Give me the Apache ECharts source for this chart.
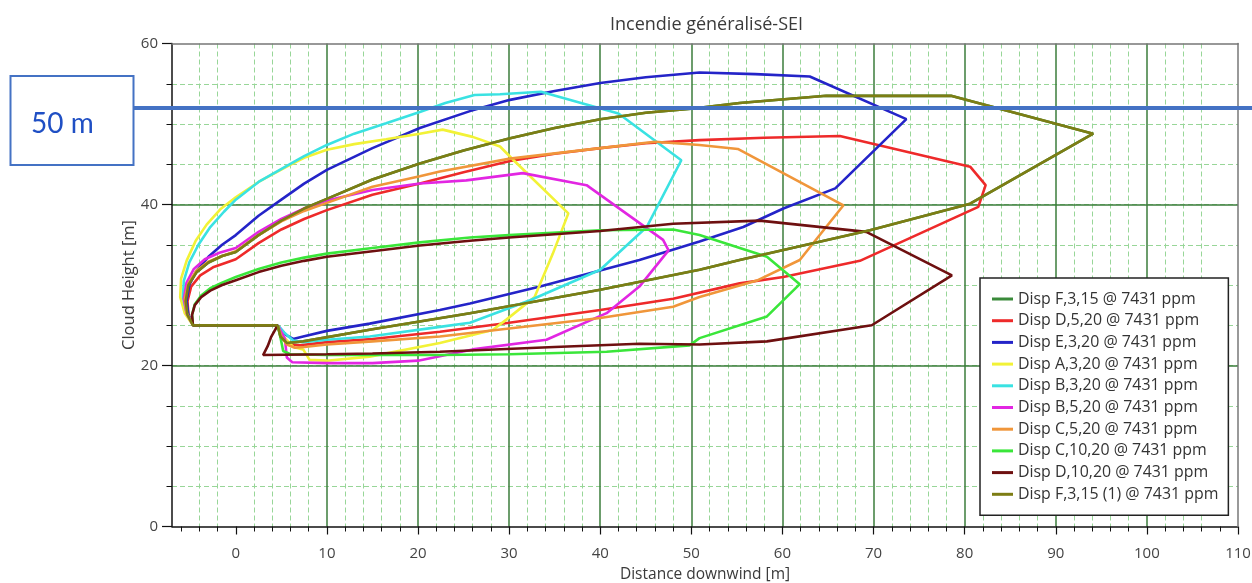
<!DOCTYPE html>
<html>
<head>
<meta charset="utf-8">
<script src="https://cdn.jsdelivr.net/npm/echarts@6/dist/echarts.min.js"></script>
<style>
html,body{margin:0;padding:0;background:#fff;}
#chart{width:1252px;height:583px;}
</style>
</head>
<body>
<div id="chart"></div>
<script>
// ---------- DATA ----------
const chartTitle = 'Incendie généralisé-SEI';
const xAxisName = 'Distance downwind [m]';
const yAxisName = 'Cloud Height [m]';
const xMin = -7, xMax = 110;
const yMin = 0, yMax = 60;
const xMajorTicks = [0,10,20,30,40,50,60,70,80,90,100,110];
const xMinorTicks = [-6,-4,-2,2,4,6,8,12,14,16,18,22,24,26,28,32,34,36,38,42,44,46,48,52,54,56,58,62,64,66,68,72,74,76,78,82,84,86,88,92,94,96,98,102,104,106,108];
const yMajorInterval = 20;
const yMinorInterval = 5;
const annotationText = '50 m';
const annotationLineY = 52.0;

const seriesNames = [
  'Disp F,3,15 @ 7431 ppm',
  'Disp D,5,20 @ 7431 ppm',
  'Disp E,3,20 @ 7431 ppm',
  'Disp A,3,20 @ 7431 ppm',
  'Disp B,3,20 @ 7431 ppm',
  'Disp B,5,20 @ 7431 ppm',
  'Disp C,5,20 @ 7431 ppm',
  'Disp C,10,20 @ 7431 ppm',
  'Disp D,10,20 @ 7431 ppm',
  'Disp F,3,15 (1) @ 7431 ppm'
];
const seriesColors = ['#3a8a3a','#ee2a2a','#2424c8','#f2f236','#3ae2e2','#e226e2','#f0963a','#3ae63a','#6e1010','#7d7d14'];

const dispF315 = [[4.6,25],[-4.7,25],[-5.3,26.3],[-5.5,28],[-5.2,30],[-4.3,31.6],[-3,32.8],[-1.5,33.6],[0,34.1],[2.5,36.2],[5,38],[7.5,39.5],[10,40.7],[15,43.1],[20.2,45.1],[25,46.7],[30,48.2],[35,49.5],[40,50.6],[45,51.4],[50.9,52.0],[55.3,52.6],[64.8,53.5],[78.5,53.5],[94.1,48.8],[80.6,40.1],[69.6,36.8],[55.3,33.1],[50.9,31.9],[40,29.4],[25.7,26.5],[15,24.5],[7.4,23.0],[5.6,22.8],[4.9,23.6],[4.6,25]];
const dispD520 = [[4.6,25],[-4.7,25],[-5.2,26.3],[-5.3,28],[-4.9,29.8],[-3.9,31.2],[-2.5,32.2],[-1,32.8],[0,33.2],[2.5,35.2],[5,36.9],[7.5,38.2],[10,39.3],[15,41.2],[20.2,42.6],[25,44],[30.1,45.4],[35,46.3],[40,47.0],[45,47.6],[50.9,48.0],[58,48.3],[66.3,48.5],[80.6,44.7],[82.3,42.4],[81.5,39.7],[68.5,33.0],[60.1,31.0],[55.3,30.2],[48,28.3],[40,26.9],[30,25.3],[22.4,24.2],[15,23.3],[10,22.9],[7,22.5],[5.8,22.6],[5.0,23.5],[4.6,25]];
const dispE320 = [[4.6,25],[-4.7,25],[-5.2,26.3],[-5.4,28],[-5.1,30],[-4.3,31.8],[-3,33.5],[-1.5,35],[0,36.2],[2.5,38.6],[5,40.6],[7.5,42.6],[10,44.3],[15,47],[20.2,49.5],[25.7,51.6],[30.1,53.0],[35,54.1],[40,55.1],[45,55.8],[50.9,56.4],[57,56.2],[63,55.9],[73.6,50.6],[65.8,42.0],[60.1,39.5],[55.7,37.2],[50.9,35.4],[44.3,33.1],[33.4,29.8],[25.7,27.7],[22.4,26.9],[14.7,25.2],[10,24.3],[7.4,23.6],[6.3,23.3],[5.5,23.8],[4.6,25]];
const dispA320 = [[4.6,25],[-4.7,25],[-5.6,26.5],[-6.1,28.5],[-6.0,30.8],[-5.4,33],[-4.4,35.5],[-3.2,37.5],[-1.7,39.4],[0,40.9],[2.5,42.8],[5.6,44.7],[7.5,45.8],[10,46.8],[13,47.5],[16.5,48.1],[20.2,48.8],[22.7,49.3],[26,48.4],[29,47.2],[30.5,45.5],[36.5,38.9],[34.8,33.9],[32.8,28.5],[29.7,25.7],[28.2,24.4],[22.4,22.8],[14.7,21.1],[10,20.6],[8.1,20.7],[7.4,22.0],[6.3,22.3],[5.3,23.5],[4.6,25]];
const dispB320 = [[4.6,25],[-4.7,25],[-5.4,26.5],[-5.8,28.5],[-5.7,30.5],[-5.1,32.8],[-4.1,35],[-2.8,37.2],[-1.3,39.1],[0,40.6],[2.5,42.8],[5.6,44.8],[7.5,46],[10,47.4],[13,48.8],[16.5,50.1],[20.2,51.5],[23,52.6],[26.2,53.6],[29,53.7],[33.5,54.0],[42,51.3],[48.9,45.5],[45.1,37.2],[40,31.9],[32.3,28.1],[25.7,25.3],[22.4,24.8],[14.7,23.6],[10,23.2],[7.4,22.9],[6.3,23.1],[5.4,24],[4.6,25]];
const dispB520 = [[4.6,25],[-4.7,25],[-5.4,26.5],[-5.7,28.3],[-5.4,30.3],[-4.6,32],[-3.4,33.2],[-1.8,34],[0,34.6],[2.5,36.6],[5,38.2],[7.5,39.5],[10,40.5],[15,41.8],[20.2,42.6],[25.3,43.0],[31.5,43.9],[38.5,42.4],[46.9,35.6],[47.5,34.3],[44.3,29.8],[40.7,26.5],[34.1,23.2],[26,22.0],[20,20.6],[15,20.3],[10,20.3],[6.2,20.4],[5.6,21.0],[5.4,23.3],[4.6,25]];
const dispC520 = [[4.6,25],[-4.7,25],[-5.4,26.5],[-5.6,28.3],[-5.2,30.2],[-4.3,31.8],[-3,32.9],[-1.5,33.6],[0,34.2],[2.5,36.2],[5,37.9],[7.5,39.2],[10,40.2],[15,42.2],[20.2,43.5],[22.4,44.1],[30.1,45.7],[40,47.0],[46,47.8],[50.9,47.4],[55.1,46.9],[66.7,39.9],[61.9,33.1],[57.3,30.6],[50.9,28.5],[48,27.3],[40,25.9],[30,24.6],[22.4,23.6],[15,23.0],[10,22.6],[7.5,22.3],[6.5,22.2],[5.6,22.6],[5.0,23.6],[4.6,25]];
const dispC1020 = [[4.6,25],[-4.7,25],[-4.8,26.3],[-4.5,27.6],[-3.8,28.7],[-2.8,29.6],[-1.5,30.3],[0,31.0],[2.5,32],[5,32.8],[7.5,33.4],[10,33.9],[15,34.6],[20.2,35.3],[25.7,35.9],[30,36.2],[40,36.8],[48,36.9],[50.9,36.2],[58.3,33.5],[61.9,30.1],[58.3,26.1],[50.9,23.4],[49.8,22.5],[40.7,21.7],[30,21.4],[22.4,21.3],[15,21.3],[10,21.3],[6,21.4],[5.2,21.8],[4.9,23.5],[4.6,25]];
const dispD1020 = [[4.6,25],[-4.7,25],[-4.8,26.3],[-4.5,27.5],[-3.8,28.5],[-2.8,29.3],[-1.5,30.0],[0,30.6],[2.5,31.6],[5,32.4],[7.5,33.0],[10,33.5],[15,34.2],[20.2,34.9],[25.7,35.5],[30,35.9],[40,36.7],[48,37.6],[57.5,38.0],[69.2,36.6],[78.6,31.2],[69.8,25.0],[58.3,23.0],[50.9,22.6],[44.3,22.7],[35,22.3],[22.4,21.7],[15,21.5],[10,21.4],[3.0,21.3],[3.5,22.4],[3.9,23.6],[4.6,25]];
const dispF315b = [[4.6,25],[-4.7,25],[-5.3,26.3],[-5.5,28],[-5.2,30],[-4.3,31.6],[-3,32.8],[-1.5,33.6],[0,34.1],[2.5,36.2],[5,38],[7.5,39.5],[10,40.7],[15,43.1],[20.2,45.1],[25,46.7],[30,48.2],[35,49.5],[40,50.6],[45,51.4],[50.9,52.0],[55.3,52.6],[64.8,53.5],[78.5,53.5],[94.1,48.8],[80.6,40.1],[69.6,36.8],[55.3,33.1],[50.9,31.9],[40,29.4],[25.7,26.5],[15,24.5],[7.4,23.0],[5.6,22.8],[4.9,23.6],[4.6,25]];

const seriesData = [dispF315, dispD520, dispE320, dispA320, dispB320, dispB520, dispC520, dispC1020, dispD1020, dispF315b];

// ---------- CHART ----------
const FONT = '"Open Sans", sans-serif';
const chart = echarts.init(document.getElementById('chart'), null, {renderer: 'canvas'});
const GRID = {left: 172, right: 14, top: 43.5, bottom: 56.5};
const MAJOR = '#3b7d3b';
const MINOR = '#98d698';

const option = {
  animation: false,
  backgroundColor: '#ffffff',
  title: {
    text: chartTitle, left: 605, top: 11,
    textStyle: {fontFamily: FONT, fontSize: 18, fontWeight: 'normal', color: '#3a3a3a'}
  },
  grid: Object.assign({containLabel: false, outerBoundsMode: 'none'}, GRID),
  legend: {
    orient: 'vertical', left: 980, top: 278,
    backgroundColor: '#ffffff', borderColor: '#222', borderWidth: 1.5,
    padding: [12, 10, 12, 12],
    itemWidth: 21, itemHeight: 3, itemGap: 3.7, icon: 'rect',
    textStyle: {fontFamily: FONT, fontSize: 15.9, color: '#333', lineHeight: 18},
    data: seriesNames, selectedMode: false
  },
  xAxis: [
    {
      type: 'value', min: xMin, max: xMax, position: 'bottom', z: 1,
      name: xAxisName, nameLocation: 'middle', nameGap: 40, nameMoveOverlap: false,
      nameTextStyle: {fontFamily: FONT, fontSize: 15.5, color: '#3a3a3a'},
      axisLine: {show: true, onZero: false, lineStyle: {color: '#111', width: 1.5}},
      axisTick: {show: true, customValues: xMajorTicks, length: 8, lineStyle: {color: '#111', width: 1.2}},
      axisLabel: {customValues: xMajorTicks, margin: 20, fontFamily: FONT, fontSize: 15, color: '#444'},
      splitLine: {show: true, showMinLine: false, showMaxLine: false, lineStyle: {color: MAJOR, width: 1.5}}
    },
    {
      type: 'value', min: xMin, max: xMax, position: 'bottom', z: 0,
      axisLine: {show: false, onZero: false},
      axisTick: {show: true, customValues: xMinorTicks, length: 5, lineStyle: {color: '#111', width: 1}},
      axisLabel: {show: false, customValues: xMinorTicks},
      splitLine: {show: true, showMinLine: false, showMaxLine: false, lineStyle: {color: MINOR, width: 1, type: [5, 3]}}
    },
    {
      type: 'value', min: xMin, max: xMax, position: 'top', z: 3,
      axisLine: {show: true, onZero: false, lineStyle: {color: '#777', width: 1.5}},
      axisTick: {show: false}, axisLabel: {show: false}, splitLine: {show: false}
    }
  ],
  yAxis: [
    {
      type: 'value', min: yMin, max: yMax, interval: yMajorInterval, position: 'left', z: 1,
      name: yAxisName, nameLocation: 'middle', nameGap: 34, nameMoveOverlap: false,
      nameTextStyle: {fontFamily: FONT, fontSize: 16.5, color: '#3a3a3a'},
      axisLine: {show: true, onZero: false, lineStyle: {color: '#111', width: 1.5}},
      axisTick: {show: true, length: 10, lineStyle: {color: '#111', width: 1.2}},
      axisLabel: {margin: 14, fontFamily: FONT, fontSize: 15, color: '#444'},
      splitLine: {show: true, showMinLine: false, showMaxLine: false, lineStyle: {color: MAJOR, width: 1.5}}
    },
    {
      type: 'value', min: yMin, max: yMax, interval: yMinorInterval, position: 'left', z: 0,
      axisLine: {show: false, onZero: false},
      axisTick: {show: true, length: 5.5, lineStyle: {color: '#111', width: 1}},
      axisLabel: {show: false},
      splitLine: {show: true, showMinLine: false, showMaxLine: false, lineStyle: {color: MINOR, width: 1, type: [5, 3]}}
    },
    {
      type: 'value', min: yMin, max: yMax, position: 'right', z: 3,
      axisLine: {show: true, onZero: false, lineStyle: {color: '#777', width: 1.5}},
      axisTick: {show: false}, axisLabel: {show: false}, splitLine: {show: false}
    }
  ],
  series: seriesNames.map((name, i) => ({
    name: name, type: 'line', xAxisIndex: 0, yAxisIndex: 0,
    data: seriesData[i], showSymbol: false, symbol: 'none',
    color: seriesColors[i],
    lineStyle: {color: seriesColors[i], width: 2.6},
    z: 2 + i * 0.01, clip: true
  }))
};
chart.setOption(option);

// annotation overlay (box with label + horizontal marker line)
const lineY = chart.convertToPixel({yAxisIndex: 0}, annotationLineY);
chart.setOption({
  graphic: [
    {type: 'line', z: 100, shape: {x1: 133, y1: lineY, x2: 1252, y2: lineY},
     style: {stroke: '#4472C4', lineWidth: 4}},
    {type: 'rect', z: 100, shape: {x: 10.5, y: 76, width: 123, height: 89},
     style: {fill: '#ffffff', stroke: '#4472C4', lineWidth: 2}},
    {type: 'text', z: 101, x: 31, y: 124,
     style: {text: annotationText, font: '28px Lato, sans-serif', fill: '#1f4fc4', verticalAlign: 'middle', align: 'left'}}
  ]
});
</script>
</body>
</html>
